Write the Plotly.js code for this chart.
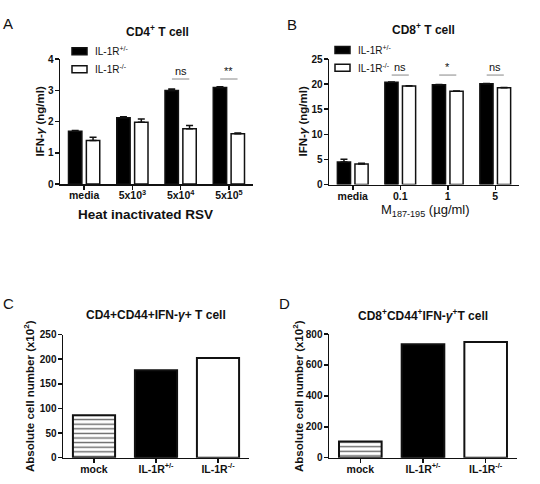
<!DOCTYPE html>
<html>
<head>
<meta charset="utf-8">
<script src="https://cdn.plot.ly/plotly-3.0.1.min.js"></script>
<style>
  html, body { margin: 0; padding: 0; background: #fff; }
  #fig { width: 540px; height: 484px; }
</style>
</head>
<body>
<div id="fig"></div>
<script>
// ---- Panel A: CD4+ T cell, IFN-gamma (ng/ml) vs heat inactivated RSV ----
const rsvDoses = ['media', '5x10<sup>3</sup>', '5x10<sup>4</sup>', '5x10<sup>5</sup>'];
const cd4Het = [1.69, 2.12, 2.99, 3.09];
const cd4HetErr = [0.02, 0.03, 0.05, 0.02];
const cd4Ko = [1.39, 1.98, 1.77, 1.61];
const cd4KoErr = [0.11, 0.10, 0.10, 0.02];
const cd4Sig = ['', '', 'ns', '**'];

// ---- Panel B: CD8+ T cell, IFN-gamma (ng/ml) vs M187-195 peptide ----
const peptideDoses = ['media', '0.1', '1', '5'];
const cd8Het = [4.5, 20.35, 19.85, 20.05];
const cd8HetErr = [0.55, 0.05, 0.05, 0.05];
const cd8Ko = [4.1, 19.6, 18.6, 19.25];
const cd8KoErr = [0.15, 0.05, 0.05, 0.05];
const cd8Sig = ['', 'ns', '*', 'ns'];

// ---- Panels C & D: absolute cell numbers (x10^2) ----
const groups = ['mock', 'IL-1R<sup>+/-</sup>', 'IL-1R<sup>-/-</sup>'];
const cd4Counts = [86, 177.5, 202.5];
const cd8Counts = [104, 733, 748];

const hetName = 'IL-1R<sup>+/-</sup>';
const koName = 'IL-1R<sup>-/-</sup>';

const W = 540, H = 484;
const px = x => x / W;
const py = y => 1 - y / H;
const FONT = 'Liberation Sans, Arial, Helvetica, sans-serif';
const INK = '#111';

function errBars(arr) {
  return { type: 'data', symmetric: false, array: arr, arrayminus: arr.map(() => 0),
           color: INK, thickness: 1.5, width: 3.5 };
}

function idx(arr) { return arr.map((_, i) => i); }

const traces = [
  { type: 'bar', x: idx(rsvDoses), y: cd4Het, name: hetName, xaxis: 'x', yaxis: 'y',
    marker: { color: '#000', line: { color: INK, width: 1.5 } }, error_y: errBars(cd4HetErr) },
  { type: 'bar', x: idx(rsvDoses), y: cd4Ko, name: koName, xaxis: 'x', yaxis: 'y',
    marker: { color: '#fff', line: { color: INK, width: 1.5 } }, error_y: errBars(cd4KoErr) },
  { type: 'bar', x: idx(peptideDoses), y: cd8Het, name: hetName, xaxis: 'x2', yaxis: 'y2',
    marker: { color: '#000', line: { color: INK, width: 1.5 } }, error_y: errBars(cd8HetErr) },
  { type: 'bar', x: idx(peptideDoses), y: cd8Ko, name: koName, xaxis: 'x2', yaxis: 'y2',
    marker: { color: '#fff', line: { color: INK, width: 1.5 } }, error_y: errBars(cd8KoErr) }
];

// one bar per group in panels C and D: striped mock, black het, white knockout
const groupFill = ['#fff', '#000', '#fff'];
const groupHatch = ['-', '', ''];
function countBars(counts, xa, ya) {
  counts.forEach((v, i) => {
    const m = { color: groupFill[i], line: { color: INK, width: 2 } };
    if (groupHatch[i]) {
      m.pattern = { shape: groupHatch[i], fgcolor: '#666', bgcolor: '#fff', size: 4.6,
                    solidity: 0.3, fillmode: 'replace' };
    }
    traces.push({ type: 'bar', x: [i], y: [v], xaxis: xa, yaxis: ya,
                  width: 0.68, offset: -0.34, marker: m });
  });
}
countBars(cd4Counts, 'x3', 'y3');
countBars(cd8Counts, 'x4', 'y4');

traces.forEach(t => { t.showlegend = false; t.hoverinfo = 'none'; });

const tickFont = { family: FONT, size: 10.5, color: INK, weight: 'bold' };

function xAxis(domain, labels) {
  return { domain: domain, range: [-0.5, labels.length - 0.5], tickvals: idx(labels), ticktext: labels,
           showline: true, linecolor: INK, linewidth: 1.5, ticks: 'outside', ticklen: 4,
           tickwidth: 1.5, tickcolor: INK, tickfont: tickFont, ticklabelstandoff: -3,
           showgrid: false, zeroline: false, fixedrange: true };
}
function yAxis(domain, range, dtick, anchor) {
  return { domain: domain, range: range, dtick: dtick, anchor: anchor,
           showline: true, linecolor: INK, linewidth: 1.5, ticks: 'outside', ticklen: 4,
           tickwidth: 1.5, tickcolor: INK, tickfont: Object.assign({}, tickFont, { size: 10 }),
           ticklabelstandoff: -1,
           showgrid: false, zeroline: false, fixedrange: true };
}

const layout = {
  width: W, height: H,
  margin: { l: 0, r: 0, t: 0, b: 0 },
  paper_bgcolor: '#fff', plot_bgcolor: 'rgba(0,0,0,0)',
  font: { family: FONT, color: INK },
  barmode: 'group', bargap: 0.26, bargroupgap: 0.25,
  showlegend: false,
  xaxis: Object.assign(xAxis([px(60), px(253)], rsvDoses), { anchor: 'y' }),
  yaxis: yAxis([py(184), py(59)], [0, 4], 1, 'x'),
  xaxis2: Object.assign(xAxis([px(329), px(519)], peptideDoses), { anchor: 'y2' }),
  yaxis2: yAxis([py(184.5), py(59)], [0, 25], 5, 'x2'),
  xaxis3: Object.assign(xAxis([px(63), px(249)], groups), { anchor: 'y3' }),
  yaxis3: yAxis([py(457.7), py(334.5)], [0, 250], 50, 'x3'),
  xaxis4: Object.assign(xAxis([px(329), px(517)], groups), { anchor: 'y4' }),
  yaxis4: yAxis([py(457.7), py(334)], [0, 800], 200, 'x4'),
  annotations: [],
  shapes: []
};

function label(text, x, y, size, extra) {
  return Object.assign({ text: text, xref: 'paper', yref: 'paper', x: px(x), y: py(y),
    xanchor: 'center', yanchor: 'middle', showarrow: false,
    font: { family: FONT, size: size, color: INK } }, extra || {});
}

// panel letters
layout.annotations.push(label('A', 8, 23, 15));
layout.annotations.push(label('B', 292, 24, 15));
layout.annotations.push(label('C', 8, 303, 15));
layout.annotations.push(label('D', 284, 303, 15));

// panel titles
layout.annotations.push(label('<b>CD4<sup>+</sup> T cell</b>', 157, 31, 12));
layout.annotations.push(label('<b>CD8<sup>+</sup> T cell</b>', 423, 29, 12));
layout.annotations.push(label('<b>CD4+CD44+IFN-<i>γ</i>+ T cell</b>', 156, 315, 12));
layout.annotations.push(label('<b>CD8<sup>+</sup>CD44<sup>+</sup>IFN-<i>γ</i><sup>+</sup>T cell</b>', 423, 315, 12));

// axis titles
layout.annotations.push(label('<b>IFN-<i>γ</i> (ng/ml)</b>', 40, 121.5, 11.5, { textangle: -90 }));
layout.annotations.push(label('<b>IFN-<i>γ</i> (ng/ml)</b>', 303, 121.5, 11.5, { textangle: -90 }));
layout.annotations.push(label('<b>Absolute cell number </b><b>(x10<sup>2</sup>)</b>', 29, 396, 11.5, { textangle: -90 }));
layout.annotations.push(label('<b>Absolute cell number </b><b>(x10<sup>2</sup>)</b>', 298, 396, 11.5, { textangle: -90 }));
layout.annotations.push(label('<b>Heat inactivated RSV</b>', 145, 214, 13.5));
layout.annotations.push(label('M<sub>187-195</sub> (µg/ml)', 425, 210, 13));

// legends (A and B)
function legendBlock(x, y1, y2) {
  layout.shapes.push({ type: 'rect', xref: 'paper', yref: 'paper',
    x0: px(x), x1: px(x + 15), y0: py(y1 + 3.5), y1: py(y1 - 3.5),
    fillcolor: '#000', line: { color: INK, width: 1.5 } });
  layout.shapes.push({ type: 'rect', xref: 'paper', yref: 'paper',
    x0: px(x), x1: px(x + 15), y0: py(y2 + 3.5), y1: py(y2 - 3.5),
    fillcolor: '#fff', line: { color: INK, width: 1.5 } });
  layout.annotations.push(label(hetName, x + 21, y1, 10, { xanchor: 'left' }));
  layout.annotations.push(label(koName, x + 21, y2, 10, { xanchor: 'left' }));
}
legendBlock(72, 51.3, 69.3);
legendBlock(335, 50, 67.7);

// significance marks
function sigMarks(labels, xa, ya, yLine, yText) {
  labels.forEach((s, i) => {
    if (!s) return;
    layout.shapes.push({ type: 'line', xref: xa, yref: ya, x0: i - 0.18, x1: i + 0.18,
      y0: yLine, y1: yLine, line: { color: '#888', width: 1 } });
    layout.annotations.push({ text: s, xref: xa, yref: ya, x: i, y: yText, showarrow: false,
      xanchor: 'center', yanchor: 'middle', font: { family: FONT, size: 11, color: INK } });
  });
}
sigMarks(cd4Sig, 'x', 'y', 3.36, 3.62);
sigMarks(cd8Sig, 'x2', 'y2', 21.8, 23.4);

Plotly.newPlot('fig', traces, layout, { staticPlot: true, displayModeBar: false });
</script>
</body>
</html>
